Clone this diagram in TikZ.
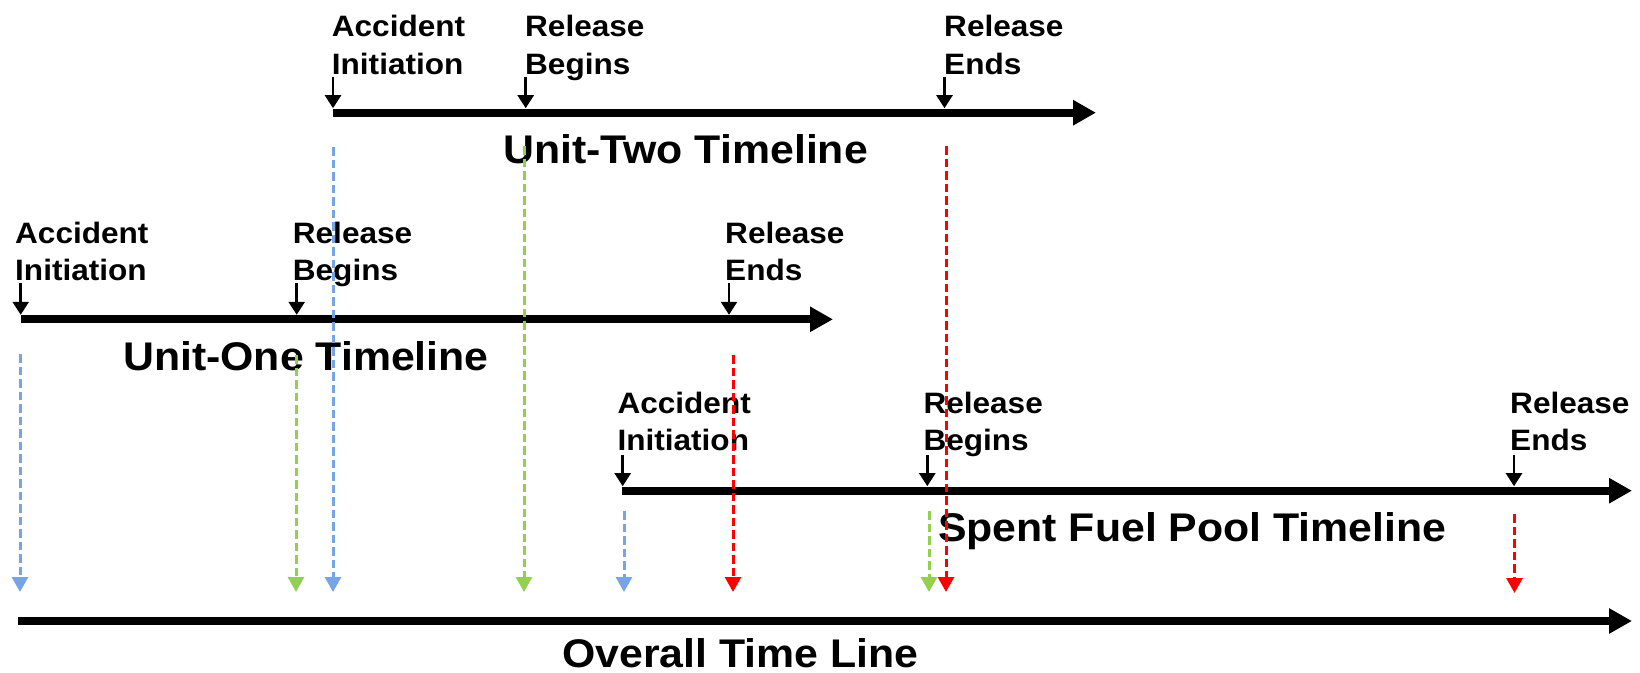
\documentclass[tikz,border=0pt]{standalone}
\usepackage{fontspec}
\setmainfont{Liberation Sans}[FakeStretch=1.07]
\usetikzlibrary{arrows.meta}
\definecolor{cblue}{HTML}{76A5E6}
\definecolor{cgreen}{HTML}{92D050}
\definecolor{cred}{HTML}{FF0000}
\begin{document}
\begin{tikzpicture}[x=1pt,y=-1pt,
  timeline/.style={line width=8pt,-{Triangle[length=23pt,width=24pt]}},
  tickarrow/.style={line width=2.5pt,-{Triangle[length=13pt,width=16pt]}},
  drop/.style={line width=3pt,dash pattern=on 8.5pt off 4pt,-{Triangle[length=15pt,width=16pt]}},
  lbl/.style={anchor=north west,inner sep=0pt,align=left,font=\fontsize{29.5}{37.5}\selectfont\bfseries},
  ttl/.style={anchor=base west,inner sep=0pt,font=\fontsize{40}{48}\selectfont\bfseries}]
\useasboundingbox[fill=white] (0,0) rectangle (1640,672);

% line end points
\coordinate (u2s) at (333,112.7);  \coordinate (u2e) at (1096,112.7);
\coordinate (u1s) at (20.5,319.3); \coordinate (u1e) at (833,319.3);
\coordinate (sfs) at (622,490.7);  \coordinate (sfe) at (1632,490.7);
\coordinate (ovs) at (18,621);     \coordinate (ove) at (1632,621);

% tick points on lines
\coordinate (u2a) at (333,112.7);   \coordinate (u2b) at (525.7,112.7); \coordinate (u2c) at (944.5,112.7);
\coordinate (u1a) at (20.7,319.3);  \coordinate (u1b) at (296.7,319.3); \coordinate (u1c) at (729,319.3);
\coordinate (sfa) at (622.7,490.7); \coordinate (sfb) at (927.3,490.7); \coordinate (sfc) at (1514,490.7);

% timelines
\draw[timeline] (u2s) -- (u2e);
\draw[timeline] (u1s) -- (u1e);
\draw[timeline] (sfs) -- (sfe);
\draw[timeline] (ovs) -- (ove);

% ticks
\foreach \p in {u2a,u2b,u2c,u1a,u1b,u1c,sfa,sfb,sfc}
  \draw[tickarrow] ([yshift=36pt]\p) -- ([yshift=4.5pt]\p);

% labels
\node[lbl] (l2a) at (331.7,15) {Accident\\Initiation};
\node[lbl] (l2b) at (525,15) {Release\\Begins};
\node[lbl] (l2c) at (944,15) {Release\\Ends};
\node[lbl] (l1a) at (15,221.7) {Accident\\Initiation};
\node[lbl] (l1b) at (292.7,221.7) {Release\\Begins};
\node[lbl] (l1c) at (725,221.7) {Release\\Ends};
\node[lbl] (lsa) at (617.3,391.7) {Accident\\Initiation};
\node[lbl] (lsb) at (923.3,391.7) {Release\\Begins};
\node[lbl] (lsc) at (1510,391.7) {Release\\Ends};

% titles
\node[ttl] (t2) at (503,163) {Unit-Two Timeline};
\node[ttl] (t1) at (123,370) {Unit-One Timeline};
\node[ttl] (ts) at (938,541) {Spent Fuel Pool Timeline};
\node[ttl] (to) at (562,667) {Overall Time Line};

% dashed drops
\coordinate (b1s) at (20,354);   \coordinate (b1e) at (20,592);
\coordinate (b2s) at (333,147);  \coordinate (b2e) at (333,592);
\coordinate (b3s) at (624,511);  \coordinate (b3e) at (624,592);
\coordinate (g1s) at (296,355);  \coordinate (g1e) at (296,592);
\coordinate (g2s) at (524,146);  \coordinate (g2e) at (524,592);
\coordinate (g3s) at (929,511);  \coordinate (g3e) at (929,592);
\coordinate (r1s) at (733,355);  \coordinate (r1e) at (733,592);
\coordinate (r2s) at (946,146);  \coordinate (r2e) at (946,592);
\coordinate (r3s) at (1514.5,514); \coordinate (r3e) at (1514.5,593);

\draw[drop,cblue] (b1s) -- (b1e);
\draw[drop,cblue] (b2s) -- (b2e);
\draw[drop,cblue] (b3s) -- (b3e);
\draw[drop,cgreen] (g1s) -- (g1e);
\draw[drop,cgreen] (g2s) -- (g2e);
\draw[drop,cgreen] (g3s) -- (g3e);
\draw[drop,cred] (r1s) -- (r1e);
\draw[drop,cred] (r2s) -- (r2e);
\draw[drop,cred] (r3s) -- (r3e);
\end{tikzpicture}
\end{document}
